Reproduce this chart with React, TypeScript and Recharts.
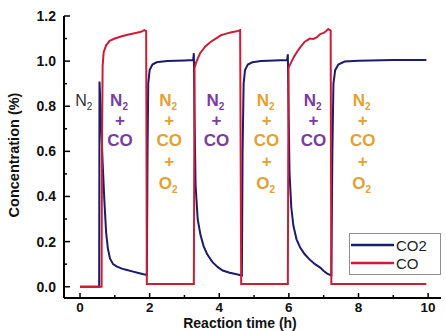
import { Legend, Line, LineChart, ReferenceDot, XAxis, YAxis } from "recharts";

const FONT = "'Liberation Sans', Arial, sans-serif";
const CO2_COLOR = "#1b1c6c";
const CO_COLOR = "#cc1d36";
const PURPLE = "#7a3d9f";
const ORANGE = "#e2a231";

// reaction time (h) / concentration (%)
const co2Times = [
	0, 0.55, 0.56, 0.6, 0.65, 0.7, 0.75, 0.8, 0.86, 0.95, 1.05, 1.2, 1.35, 1.5,
	1.65, 1.8, 1.92, 1.94, 1.96, 2.0, 2.08, 2.2, 2.5, 3.0, 3.25, 3.27, 3.29, 3.32,
	3.38, 3.46, 3.55, 3.65, 3.8, 3.95, 4.1, 4.3, 4.5, 4.65, 4.67, 4.7, 4.74, 4.82,
	4.95, 5.2, 5.95, 5.97, 5.99, 6.02, 6.07, 6.13, 6.22, 6.32, 6.45, 6.6, 6.75,
	6.9, 7.0, 7.1, 7.22, 7.25, 7.28, 7.33, 7.42, 7.6, 8.0, 9.0, 9.95,
];
const co2Values = [
	0, 0, 0.91, 0.75, 0.55, 0.38, 0.24, 0.17, 0.125, 0.1, 0.09, 0.08, 0.074,
	0.068, 0.062, 0.056, 0.052, 0.6, 0.9, 0.96, 0.985, 0.995, 1.0, 1.003, 1.005,
	1.035, 0.75, 0.45, 0.3, 0.23, 0.18, 0.145, 0.11, 0.088, 0.072, 0.062, 0.055,
	0.05, 0.6, 0.9, 0.96, 0.985, 0.995, 1.0, 1.005, 1.03, 0.8, 0.5, 0.35, 0.27,
	0.21, 0.175, 0.145, 0.12, 0.1, 0.085, 0.07, 0.058, 0.05, 0.6, 0.9, 0.96,
	0.985, 0.998, 1.002, 1.005, 1.005,
];

const coTimes = [
	0, 0.62, 0.63, 0.65, 0.68, 0.75, 0.85, 1.0, 1.2, 1.4, 1.6, 1.75, 1.85, 1.9,
	1.92, 3.27, 3.29, 3.35, 3.45, 3.6, 3.75, 3.9, 4.05, 4.2, 4.35, 4.5, 4.6, 4.63,
	5.97, 5.99, 6.05, 6.15, 6.25, 6.32, 6.45, 6.6, 6.7, 6.8, 6.9, 7.0, 7.08, 7.13,
	7.2, 7.22, 9.95,
];
const coValues = [
	0, 0, 0.6, 0.98, 1.04, 1.07, 1.09, 1.1, 1.11, 1.118, 1.125, 1.13, 1.137,
	1.133, 0.012, 0.012, 0.97, 1.0, 1.035, 1.065, 1.085, 1.1, 1.115, 1.122,
	1.128, 1.132, 1.137, 0.012, 0.012, 0.97, 0.99, 1.02, 1.045, 1.06, 1.085, 1.1,
	1.098, 1.105, 1.12, 1.125, 1.135, 1.142, 1.135, 0.012, 0.012,
];

const xTicks = [0, 1, 2, 3, 4, 5, 6, 7, 8, 9, 10];
const yTicks = [0, 0.1, 0.2, 0.3, 0.4, 0.5, 0.6, 0.7, 0.8, 0.9, 1.0, 1.1, 1.2];

// gas feed labels: centre time and which mixture
const feedTimes = [0.11, 1.15, 2.56, 3.92, 5.36, 6.71, 8.12];
const feedKinds = ["n2", "co", "o2", "co", "o2", "co", "o2"];
const feedTop = 0.8;
const legendOrder = ["CO2", "CO"];

const co2Data = co2Times.map((t, i) => ({ t, v: co2Values[i] }));
const coData = coTimes.map((t, i) => ({ t, v: coValues[i] }));

function Sub({ x, y, base, sub, fill, weight, size = 17 }: any) {
	return (
		<text
			x={x}
			y={y}
			textAnchor="middle"
			fill={fill}
			fontFamily={FONT}
			fontWeight={weight}
			fontSize={size}
		>
			<tspan>{base}</tspan>
			<tspan fontSize={10} dy={4}>
				{sub}
			</tspan>
		</text>
	);
}

function Plain({ x, y, text, fill }: any) {
	return (
		<text
			x={x}
			y={y}
			textAnchor="middle"
			fill={fill}
			fontFamily={FONT}
			fontWeight={700}
			fontSize={17}
		>
			{text}
		</text>
	);
}

function feedLabel(kind: string) {
	return (p: any) => {
		const x = p.viewBox.x;
		const y = p.viewBox.y;
		if (kind === "n2") {
			return <Sub x={x} y={y} base="N" sub="2" fill="#333" weight={400} size={16} />;
		}
		const c = kind === "co" ? PURPLE : ORANGE;
		return (
			<g>
				<Sub x={x - 1} y={y} base="N" sub="2" fill={c} weight={700} />
				<Plain x={x} y={y + 20} text="+" fill={c} />
				<Plain x={x} y={y + 40} text="CO" fill={c} />
				{kind === "o2" && (
					<>
						<Plain x={x} y={y + 61} text="+" fill={c} />
						<Sub x={x - 1} y={y + 83} base="O" sub="2" fill={c} weight={700} />
					</>
				)}
			</g>
		);
	};
}

const isMajorX = (v: number) => Math.round(v) % 2 === 0;
const isMajorY = (v: number) => Math.round(v * 10) % 2 === 0;

function BottomTick({ x, y, payload }: any) {
	const major = isMajorX(payload.value);
	return (
		<g>
			<line x1={x} x2={x} y1={y} y2={y - (major ? 5 : 3)} stroke="#000" strokeWidth={1.5} />
			{major && (
				<text x={x} y={y + 14} textAnchor="middle" fontFamily={FONT} fontWeight={700} fontSize={13.5} fill="#111">
					{payload.value}
				</text>
			)}
		</g>
	);
}

function TopTick({ x, y, payload }: any) {
	const major = isMajorX(payload.value);
	return <line x1={x} x2={x} y1={y} y2={y + (major ? 5 : 3)} stroke="#000" strokeWidth={1.5} />;
}

function LeftTick({ x, y, payload }: any) {
	const major = isMajorY(payload.value);
	return (
		<g>
			<line x1={x} x2={x + (major ? 6 : 3)} y1={y} y2={y} stroke="#000" strokeWidth={1.5} />
			{major && (
				<text x={x - 8} y={y} dy={5} textAnchor="end" fontFamily={FONT} fontWeight={700} fontSize={14} fill="#111">
					{payload.value.toFixed(1)}
				</text>
			)}
		</g>
	);
}

function RightTick({ x, y, payload }: any) {
	const major = isMajorY(payload.value);
	return <line x1={x} x2={x - (major ? 5 : 3)} y1={y} y2={y} stroke="#000" strokeWidth={1.5} />;
}

function LegendBox({ payload }: any) {
	const items = [...(payload || [])].sort(
		(a: any, b: any) => legendOrder.indexOf(a.value) - legendOrder.indexOf(b.value),
	);
	return (
		<div
			style={{
				width: 92,
				height: 42,
				boxSizing: "border-box",
				border: "1px solid #8e8e8e",
				background: "#fff",
				fontFamily: FONT,
				fontSize: 15,
				color: "#222",
				paddingTop: 2,
			}}
		>
			{items.map((e: any) => (
				<div key={e.value} style={{ display: "flex", alignItems: "center", height: 18 }}>
					<svg width={45} height={6} style={{ marginLeft: 1 }}>
						<line x1={0} x2={43} y1={3} y2={3} stroke={e.color} strokeWidth={2.5} />
					</svg>
					<span>{e.value}</span>
				</div>
			))}
		</div>
	);
}

export default function App() {
	return (
		<div style={{ position: "absolute", left: 0, top: 0, background: "#fff" }}>
			<LineChart width={446} height={331} margin={{ top: 16, right: 5, bottom: 0, left: 0 }}>
				<XAxis
					type="number"
					dataKey="t"
					domain={[-0.46, 10.37]}
					allowDataOverflow
					ticks={xTicks}
					interval={0}
					tickSize={0}
					tickMargin={0}
					tickLine={false}
					tick={BottomTick}
					height={33}
					axisLine={{ stroke: "#000", strokeWidth: 2 }}
					label={{
						content: () => (
							<text x={240} y={328} textAnchor="middle" fontFamily={FONT} fontWeight={700} fontSize={14} fill="#111">
								Reaction time (h)
							</text>
						),
					}}
				/>
				<XAxis
					xAxisId="top"
					orientation="top"
					type="number"
					dataKey="t"
					domain={[-0.46, 10.37]}
					allowDataOverflow
					ticks={xTicks}
					interval={0}
					tickSize={0}
					tickMargin={0}
					tickLine={false}
					tick={TopTick}
					height={0}
					axisLine={{ stroke: "#000", strokeWidth: 2 }}
				/>
				<YAxis
					type="number"
					domain={[-0.05, 1.2]}
					allowDataOverflow
					ticks={yTicks}
					interval={0}
					tickSize={0}
					tickMargin={0}
					tickLine={false}
					tick={LeftTick}
					width={64}
					axisLine={{ stroke: "#000", strokeWidth: 2 }}
					label={{
						content: () => (
							<text
								x={14}
								y={155}
								transform="rotate(-90, 14, 155)"
								textAnchor="middle"
								dominantBaseline="central"
								fontFamily={FONT}
								fontWeight={700}
								fontSize={14.5}
								fill="#111"
							>
								Concentration (%)
							</text>
						),
					}}
				/>
				<YAxis
					yAxisId="right"
					orientation="right"
					type="number"
					domain={[-0.05, 1.2]}
					allowDataOverflow
					ticks={yTicks}
					interval={0}
					tickSize={0}
					tickMargin={0}
					tickLine={false}
					tick={RightTick}
					width={0}
					axisLine={{ stroke: "#000", strokeWidth: 2 }}
				/>
				<Line
					data={co2Data}
					dataKey="v"
					name="CO2"
					type="linear"
					stroke={CO2_COLOR}
					strokeWidth={2}
					dot={false}
					isAnimationActive={false}
				/>
				<Line
					data={coData}
					dataKey="v"
					name="CO"
					type="linear"
					stroke={CO_COLOR}
					strokeWidth={2}
					dot={false}
					isAnimationActive={false}
				/>
				{feedTimes.map((t, i) => (
					<ReferenceDot
						key={`feed-${i}`}
						x={t}
						y={feedTop}
						r={0}
						fill="none"
						stroke="none"
						label={feedLabel(feedKinds[i])}
					/>
				))}
				<Legend
					layout="vertical"
					align="center"
					verticalAlign="middle"
					wrapperStyle={{ left: 349, top: 233, width: 92, height: 42 }}
					content={LegendBox}
				/>
			</LineChart>
		</div>
	);
}
